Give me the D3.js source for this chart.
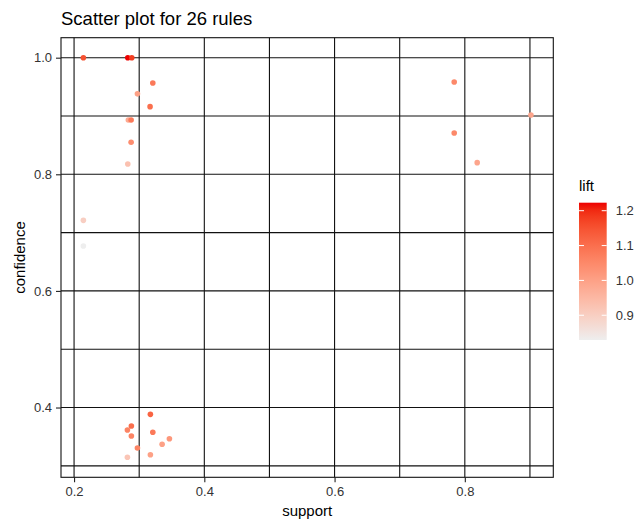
<!DOCTYPE html>
<html>
<head>
<meta charset="utf-8">
<script src="https://cdnjs.cloudflare.com/ajax/libs/d3/7.8.5/d3.min.js"></script>
<style>
  body { margin: 0; background: #fff; }
  text { font-family: "Liberation Sans", Arial, sans-serif; }
</style>
</head>
<body>
<div id="chart"></div>
<script>
// rule measures
var support = [0.2143, 0.2825, 0.2886, 0.3209, 0.2973, 0.3167, 0.2834, 0.2876, 0.2876, 0.2825,
               0.2143, 0.2143,
               0.3172, 0.2880, 0.2819, 0.3209, 0.2880, 0.3464, 0.3352, 0.2973, 0.3172, 0.2819,
               0.7837, 0.9015, 0.7837, 0.8190];
var confidence = [1.0, 1.0, 1.0, 0.9566, 0.938, 0.916, 0.893, 0.893, 0.855, 0.8177,
                  0.721, 0.677,
                  0.3883, 0.3683, 0.3614, 0.3575, 0.3511, 0.3465, 0.3369, 0.3305, 0.3190, 0.3146,
                  0.9583, 0.9017, 0.8708, 0.8200];
var lift = [1.15, 1.223, 1.18, 1.08, 1.00, 1.10, 0.98, 1.08, 1.04, 0.93,
            0.90, 0.829,
            1.12, 1.10, 1.06, 1.08, 1.06, 1.02, 1.00, 1.06, 1.00, 0.92,
            1.05, 0.99, 1.05, 0.99];
var xTicks = [0.2, 0.4, 0.6, 0.8];
var xMinor = [0.3, 0.5, 0.7, 0.9];
var yTicks = [0.4, 0.6, 0.8, 1.0];
var yMinor = [0.3, 0.5, 0.7, 0.9];
var liftTicks = [0.9, 1.0, 1.1, 1.2];

var W = 643, H = 524;
var panel = {left: 61, right: 553.3, top: 37.7, bottom: 477.3};

var svg = d3.select("#chart").append("svg")
    .attr("width", W).attr("height", H);
svg.append("rect").attr("width", W).attr("height", H).attr("fill", "#fff");

function expand(ext) {
    var r = ext[1] - ext[0];
    return [ext[0] - 0.05 * r, ext[1] + 0.05 * r];
}
var x = d3.scaleLinear().domain(expand(d3.extent(support))).range([panel.left, panel.right]);
var y = d3.scaleLinear().domain(expand(d3.extent(confidence))).range([panel.bottom, panel.top]);
var color = d3.scaleLinear().domain(d3.extent(lift)).range(["#EEEEEE", "#EE0000"])
    .interpolate(d3.interpolateLab);

// grid
var grid = svg.append("g").attr("stroke", "#111").attr("stroke-width", 1.1);
xTicks.concat(xMinor).forEach(function(v){
    grid.append("line").attr("x1", x(v)).attr("x2", x(v))
        .attr("y1", panel.top).attr("y2", panel.bottom);
});
yTicks.concat(yMinor).forEach(function(v){
    grid.append("line").attr("y1", y(v)).attr("y2", y(v))
        .attr("x1", panel.left).attr("x2", panel.right);
});
svg.append("rect")
    .attr("x", panel.left).attr("y", panel.top)
    .attr("width", panel.right - panel.left).attr("height", panel.bottom - panel.top)
    .attr("fill", "none").attr("stroke", "#111").attr("stroke-width", 1.1);

// axes
var xAxis = d3.axisBottom(x).tickValues(xTicks).tickFormat(d3.format(".1f")).tickSize(5).tickPadding(4);
var yAxis = d3.axisLeft(y).tickValues(yTicks).tickFormat(d3.format(".1f")).tickSize(5).tickPadding(4);
var gx = svg.append("g").attr("transform", "translate(0," + panel.bottom + ")").call(xAxis);
var gy = svg.append("g").attr("transform", "translate(" + panel.left + ",0)").call(yAxis);
[gx, gy].forEach(function(g){
    g.select(".domain").remove();
    g.selectAll(".tick line").attr("stroke", "#222").attr("stroke-width", 1.1);
    g.selectAll(".tick text").attr("fill", "#333").style("font-size", "13px");
});

// points
svg.append("g").selectAll("circle")
    .data(d3.range(support.length))
    .enter().append("circle")
    .attr("cx", function(i){ return x(support[i]); })
    .attr("cy", function(i){ return y(confidence[i]); })
    .attr("r", 2.8)
    .attr("fill", function(i){ return color(lift[i]); });

// titles
svg.append("text").attr("x", panel.left).attr("y", 25)
    .style("font-size", "18.5px").attr("fill", "#000").text("Scatter plot for 26 rules");
svg.append("text").attr("x", (panel.left + panel.right) / 2).attr("y", 516)
    .attr("text-anchor", "middle").style("font-size", "15px").attr("fill", "#000").text("support");
svg.append("text")
    .attr("transform", "translate(25," + ((panel.top + panel.bottom) / 2) + ") rotate(-90)")
    .attr("text-anchor", "middle").style("font-size", "15px").attr("fill", "#000").text("confidence");

// legend
var bar = {x: 579, w: 27.7, top: 202.7, bottom: 340};
var ly = d3.scaleLinear().domain(d3.extent(lift)).range([bar.bottom, bar.top]);
var grad = svg.append("defs").append("linearGradient").attr("id", "liftgrad")
    .attr("x1", 0).attr("x2", 0).attr("y1", 1).attr("y2", 0);
d3.range(0, 1.0001, 0.05).forEach(function(t){
    grad.append("stop").attr("offset", t)
        .attr("stop-color", color(ly.domain()[0] + t * (ly.domain()[1] - ly.domain()[0])));
});
svg.append("text").attr("x", bar.x).attr("y", 191).style("font-size", "15px").attr("fill", "#000").text("lift");
svg.append("rect").attr("x", bar.x).attr("y", bar.top).attr("width", bar.w)
    .attr("height", bar.bottom - bar.top).attr("fill", "url(#liftgrad)");
var lg = svg.append("g");
liftTicks.forEach(function(v){
    lg.append("line").attr("x1", bar.x).attr("x2", bar.x + 5).attr("y1", ly(v)).attr("y2", ly(v))
        .attr("stroke", "#fff").attr("stroke-width", 1);
    lg.append("line").attr("x1", bar.x + bar.w - 5).attr("x2", bar.x + bar.w).attr("y1", ly(v)).attr("y2", ly(v))
        .attr("stroke", "#fff").attr("stroke-width", 1);
    lg.append("text").attr("x", bar.x + bar.w + 9).attr("y", ly(v)).attr("dy", "0.35em")
        .style("font-size", "13px").attr("fill", "#333").text(d3.format(".1f")(v));
});
</script>
</body>
</html>
